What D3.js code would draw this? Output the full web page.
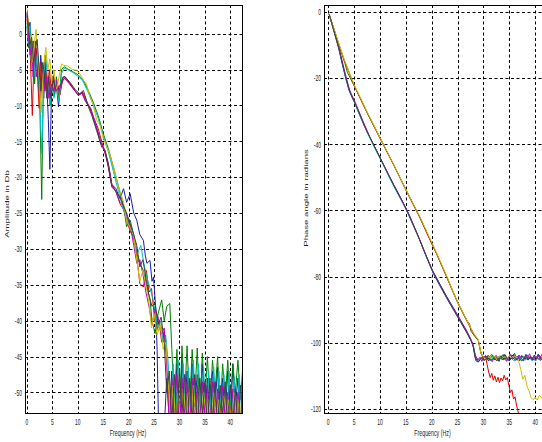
<!DOCTYPE html>
<html>
<head>
<meta charset="utf-8">
<script src="https://cdn.jsdelivr.net/npm/d3@7"></script>
<style>
body{margin:0;background:#fff;}
svg{display:block;}
</style>
</head>
<body>
<div id="chart"></div>
<script>
// tick values
var freqTicks = [0, 5, 10, 15, 20, 25, 30, 35, 40];
var ampTicks = [0, -5, -10, -15, -20, -25, -30, -35, -40, -45, -50];
var phaseTicks = [0, -20, -40, -60, -80, -100, -120];

// matlab default colour order: b g r c m y k
var seriesNames = ["blue", "green", "red", "cyan", "magenta", "yellow", "black"];
var seriesColors = ["#1c1ca8", "#008000", "#e00000", "#00bfbf", "#bf00bf", "#c8c000", "#404040"];

// amplitude spectra [freq Hz, dB]
var ampBlue = [[0,2.5],[0.3,0.5],[0.6,1.6],[0.9,-3],[1.2,-1],[1.5,-6],[1.8,-2],[2.1,-4],[2.4,-8],[2.7,-3],[3.0,-6],[3.3,-9],[3.6,-4],[3.9,-7],[4.2,-12],[4.5,-18.9],[4.8,-9],[5.1,-6],[5.4,-7.5],[5.7,-6.5],[6.2,-10.2],[6.6,-7],[7.0,-6.2],[7.5,-6],[8.5,-7],[9.5,-8],[10.1,-8.6],[10.8,-8.1],[11.5,-9.4],[12.5,-10.5],[13.5,-12.8],[14.5,-15.2],[15.3,-16.2],[16,-18],[16.7,-21],[17.5,-21.6],[18.3,-23],[19,-21.6],[19.6,-23.5],[20.3,-22.3],[21,-25],[21.6,-26],[22.2,-28],[22.9,-28.8],[23.3,-31],[23.6,-32],[24.2,-31.6],[24.6,-34.5],[24.9,-33.9],[25.3,-38],[25.6,-44],[25.9,-55],
  [27,-55],[27.5,-48],[28,-54],[28.5,-47],[29,-53],[29.5,-46],[30,-55],[30.5,-45.5],[31,-53],[31.5,-47],[32,-55],[32.5,-46],[33,-52],[33.5,-47.5],[34,-55],[34.5,-46],[35,-53],[35.5,-48],[36,-55],[36.5,-47],[37,-52],[37.5,-46.5],[38,-55],[38.5,-48],[39,-53],[39.5,-47],[40,-55],[40.5,-46],[41,-52],[41.5,-48],[42,-55],[42.5,-47]];
var ampGreen = [[0,1],[0.3,-2],[0.6,0.5],[0.9,-4],[1.2,-2],[1.5,-7],[1.8,-3],[2.1,-5],[2.5,-9],[2.9,-23.1],[3.2,-8],[3.5,-4],[3.8,-8],[4.2,-6],[4.6,-10],[5.0,-7],[5.4,-8.5],[5.8,-6],[6.3,-9],[6.8,-5],[7.3,-4.6],[8,-4.9],[9,-5.3],[10,-5.7],[11,-6.4],[12,-7.8],[13,-9.5],[14,-11.4],[15,-13.9],[16,-16],[17,-18.6],[18,-21.3],[19,-24],[19.6,-26.9],[20.3,-26],[21,-28],[21.6,-30.5],[22.2,-32],[22.9,-33],[23.5,-35],[24.2,-37],[24.6,-40],[25.2,-41.8],[25.8,-39],[26.5,-37.1],[27,-40],[27.5,-38],[28.1,-37.6],[28.5,-44],
  [29,-52],[29.5,-44],[30,-53],[30.5,-43.5],[31,-51],[31.5,-43.5],[32,-52],[32.5,-44],[33,-51],[33.5,-43.8],[34,-53],[34.5,-44.5],[35,-51],[35.5,-45],[36,-52],[36.5,-45.5],[37,-50],[37.5,-45],[38,-53],[38.5,-46],[39,-51],[39.5,-45.5],[40,-52],[40.5,-46],[41,-50],[41.5,-45.5],[42,-51],[42.5,-46]];
var ampRed = [[0,2],[0.3,0],[0.6,-2],[1.05,-11.4],[1.4,-3],[1.7,-1],[2.0,-5],[2.4,-10.4],[2.8,-4],[3.2,-7],[3.6,-3],[4.0,-8],[4.4,-5],[4.8,-8],[5.2,-5.8],[5.6,-8],[6.0,-7],[6.5,-8.5],[7.0,-6.5],[7.5,-6.2],[8.5,-7],[9.5,-8],[10.3,-8.5],[11,-8.2],[12,-9.8],[13,-11.5],[14,-13.2],[15,-15.8],[16,-18.3],[16.7,-21],[17.5,-22],[18.3,-23.7],[19,-24.5],[19.6,-26],[20.3,-27.5],[21,-28.5],[21.6,-31],[22.2,-34.8],[22.9,-35.3],[23.5,-33],[24,-36],[24.5,-35.5],[25,-39],[25.5,-41.5],[26,-40],[26.5,-43],[27,-41.5],[27.5,-45],
  [28,-53],[28.5,-49],[29,-55],[29.5,-50],[30,-54],[30.5,-48.5],[31,-55],[31.5,-50],[32,-54],[32.5,-49],[33,-55],[33.5,-50.5],[34,-53],[34.5,-49],[35,-55],[35.5,-51],[36,-54],[36.5,-50],[37,-55],[37.5,-51],[38,-54],[38.5,-50],[39,-55],[39.5,-51.5],[40,-53],[40.5,-50],[41,-55],[41.5,-51],[42,-54],[42.5,-50]];
var ampCyan = [[0,1.5],[0.3,-1],[0.6,1],[0.9,-5],[1.2,-2],[1.6,-6],[2.0,-3],[2.4,-7],[2.9,-16.7],[3.3,-6],[3.7,-3],[4.1,-7],[4.5,-10],[4.9,-7],[5.3,-9],[5.8,-7.5],[6.3,-9.5],[6.8,-5.5],[7.3,-4.8],[8,-5],[9,-5.4],[10,-5.9],[11,-6.6],[12,-8.1],[13,-9.8],[14,-11.8],[15,-14.2],[16,-16.4],[17,-19.2],[18,-22],[19,-24.6],[19.8,-26],[20.5,-27.5],[21.2,-29],[21.8,-30.5],[22.4,-29.5],[23,-32],[23.6,-34],[24.2,-35.5],[24.8,-37],[25.3,-39],[25.8,-41],[26.3,-40],[26.8,-43],[27.3,-42],[27.8,-46],
  [28.25,-53],[28.75,-46],[29.25,-54],[29.75,-45.5],[30.25,-52],[30.75,-46],[31.25,-55],[31.75,-46.5],[32.25,-53],[32.75,-45.5],[33.25,-54],[33.75,-46],[34.25,-52],[34.75,-46.5],[35.25,-55],[35.75,-47],[36.25,-53],[36.75,-46.5],[37.25,-54],[37.75,-47],[38.25,-52],[38.75,-47.5],[39.25,-55],[39.75,-47],[40.25,-53],[40.75,-48],[41.25,-54],[41.75,-47.5],[42.25,-53],[42.75,-48]];
var ampMagenta = [[0,2.8],[0.3,0],[0.6,-3],[0.9,-1],[1.2,-6],[1.5,-2],[1.9,-6],[2.3,-4],[2.7,-9],[3.1,-5],[3.5,-8],[3.9,-6],[4.3,-9],[4.8,-7],[5.3,-8],[5.8,-6.5],[6.3,-8],[6.8,-7],[7.3,-6.2],[8,-6.7],[9,-7.6],[10.1,-8.6],[10.8,-8.3],[11.6,-9.5],[12.5,-10.3],[13.5,-12.5],[14.5,-15],[15.3,-16.4],[16,-18.5],[16.7,-21.2],[17.5,-22],[18.3,-23.5],[19,-24],[19.7,-25.5],[20.4,-27],[21,-29.5],[21.6,-32],[22.2,-31.5],[22.8,-33.5],[23.4,-36],[24,-38],[24.6,-40.5],[25.2,-38.5],[25.8,-39.5],[26.4,-42],[27,-41],[27.5,-46],
  [28,-55],[28.5,-48],[29,-54],[29.5,-47.5],[30,-55],[30.5,-48],[31,-53],[31.5,-48.5],[32,-55],[32.5,-48],[33,-54],[33.5,-49],[34,-55],[34.5,-48.5],[35,-53],[35.5,-49],[36,-55],[36.5,-48.5],[37,-54],[37.5,-49.5],[38,-55],[38.5,-49],[39,-54],[39.5,-50],[40,-55],[40.5,-49.5],[41,-53],[41.5,-50],[42,-55],[42.5,-49]];
var ampYellow = [[0,3.5],[0.3,1.5],[0.6,-1],[0.9,0],[1.2,-4],[1.5,-1],[1.8,0.6],[2.1,-3],[2.4,-6],[2.8,-11],[3.2,-5],[3.7,-1.9],[4.1,-5],[4.5,-3.5],[4.9,-7],[5.3,-5],[5.8,-8],[6.3,-6],[6.8,-4.2],[7.2,-4.4],[8,-4.5],[9,-5],[9.8,-5.1],[10.5,-5.7],[11.1,-6.5],[11.7,-7],[12.4,-8.8],[13,-9.8],[13.7,-12],[14.4,-12.8],[15,-14.5],[15.7,-15.8],[16.3,-16.8],[17,-18.5],[17.7,-20.5],[18.3,-22],[19,-23.5],[19.6,-26.2],[20.3,-27],[21,-28],[21.6,-31.5],[22.2,-34.5],[22.8,-33],[23.4,-35],[24,-37.5],[24.5,-41],[25,-39],[25.6,-42],[26.2,-40.5],[26.8,-44],[27.3,-43],[27.8,-48],
  [28.25,-55],[28.75,-49],[29.25,-54],[29.75,-50],[30.25,-55],[30.75,-49.5],[31.25,-53],[31.75,-50],[32.25,-55],[32.75,-49],[33.25,-54],[33.75,-50.5],[34.25,-55],[34.75,-50],[35.25,-53],[35.75,-51],[36.25,-55],[36.75,-50],[37.25,-54],[37.75,-51],[38.25,-55],[38.75,-50.5],[39.25,-53],[39.75,-51],[40.25,-55],[40.75,-50],[41.25,-54],[41.75,-51],[42.25,-55],[42.75,-51]];
var ampBlack = [[0,3],[0.3,1],[0.6,-1.5],[0.9,-0.5],[1.3,-4],[1.7,-2],[2.0,-0.8],[2.3,-4],[2.7,-8],[3.1,-4],[3.5,-6],[3.9,-9],[4.3,-6],[4.7,-9],[5.2,-6],[5.7,-8],[6.2,-7.5],[6.7,-7],[7.1,-6],[7.5,-6],[8.5,-6.8],[9.5,-7.8],[10.4,-8.4],[11.1,-7.9],[12.1,-10.2],[12.8,-11.5],[13.7,-13.5],[14.7,-15.8],[15.4,-16.3],[16,-18.6],[16.7,-21.4],[17.3,-21.8],[18.3,-22.8],[19,-24],[19.6,-25],[20.3,-26.5],[21,-28],[21.6,-29.5],[22.2,-32.5],[22.8,-31.5],[23.4,-34],[24,-36.5],[24.6,-38],[25.2,-37.5],[25.8,-40.5],[26.4,-39.5],[27,-43],
  [27.5,-50],[28,-47],[28.5,-54],[29,-47.5],[29.5,-55],[30,-47],[30.5,-53],[31,-47.5],[31.5,-55],[32,-48],[32.5,-54],[33,-47.5],[33.5,-55],[34,-48],[34.5,-53],[35,-48.5],[35.5,-55],[36,-48],[36.5,-54],[37,-48.5],[37.5,-55],[38,-49],[38.5,-53],[39,-48.5],[39.5,-55],[40,-49],[40.5,-54],[41,-49.5],[41.5,-55],[42,-49],[42.5,-54]];

// phase spectra [freq Hz, radians]
var phaseBlue = [[0.2,-0.7],[1,-5],[2,-10.5],[2.7,-15.5],[3.4,-20],[4,-23.6],[5,-27],[6.2,-31.5],[7.5,-36.2],[9,-40.8],[10.4,-45.2],[12,-50.3],[13.6,-55],[15.2,-59.8],[16.5,-64.5],[17.7,-68.9],[19,-74],[20.3,-79],[21.5,-82.5],[22.8,-86.2],[24.2,-90],[25.5,-93.5],[26.8,-97],[27.5,-99],[28,-100.5],[28.3,-104],[28.6,-105.5],[29,-105.8],[29.4,-105],[29.8,-104.2],[30.2,-105.3],[30.6,-104],[31,-105.5],[31.4,-104.5],[31.8,-103.8],[32.2,-105.2],[32.6,-104.3],[33,-105.6],[33.4,-104],[33.8,-105],[34.2,-103.6],[34.6,-104.8],[35,-105.5],[35.4,-104.2],[35.8,-103.5],[36.2,-105],[36.6,-104],[37,-105.4],[37.4,-103.8],[37.8,-104.9],[38.2,-103.5],[38.6,-105.2],[39,-104.1],[39.4,-105.3],[39.8,-103.7],[40.2,-104.6],[40.6,-103.4],[41,-105],[41.4,-104.2],[41.8,-105.1],[42.2,-103.9]];
var phaseGreen = [[0.2,-0.7],[1.5,-7],[2.6,-12.5],[3.2,-15.3],[3.7,-18.2],[4.4,-20.4],[5.5,-23.8],[7.5,-30.3],[10.1,-38.3],[12.7,-46.3],[15.2,-54.2],[17.7,-62],[19.5,-68.2],[21,-73.2],[23,-80.4],[24.8,-87],[26.2,-91.4],[26.9,-93.5],[27.3,-94.2],[27.6,-96.5],[28.3,-98],[29,-99.3],[29.5,-102.8],[30,-104.6],[30.4,-103.8],[30.8,-105.1],[31.2,-104.2],[31.6,-103.5],[32,-104.9],[32.4,-104.1],[32.8,-105.3],[33.2,-103.9],[33.6,-104.7],[34,-103.4],[34.4,-105],[34.8,-104.2],[35.2,-103.6],[35.6,-104.8],[36,-103.2],[36.4,-104.5],[36.8,-103.8],[37.2,-105],[37.6,-104],[38,-104.7],[38.4,-103.6],[38.8,-104.9],[39.2,-104.2],[39.6,-105.1],[40,-103.9],[40.4,-104.6],[40.8,-103.7],[41.2,-104.8],[41.6,-104.1],[42,-104.9],[42.4,-104]];
var phaseRed = [[0.2,-0.7],[1.5,-7.1],[3,-14.1],[5,-22.1],[7.5,-30.4],[10.1,-38.4],[12.7,-46.4],[15.2,-54.4],[17.7,-62.1],[19.5,-68.3],[21,-73.3],[23,-80.5],[24.8,-87.1],[26.2,-91.6],[27.4,-95.2],[28.2,-97.6],[29,-99.2],[29.5,-103.2],[30,-104.6],[30.4,-104],[30.7,-106.5],[31,-108.8],[31.3,-110.5],[31.6,-109.2],[31.9,-111.3],[32.2,-110],[32.5,-111.8],[32.8,-110.4],[33.1,-112],[33.4,-110.6],[33.7,-111.5],[34,-109.8],[34.3,-111.2],[34.6,-110.5],[34.9,-112.8],[35.2,-115],[35.5,-114.2],[35.8,-117],[36.1,-116.3],[36.4,-119],[36.7,-120.8],[37,-123]];
var phaseCyan = [[0.2,-0.7],[1,-5.3],[2,-10.9],[2.8,-16],[3.5,-20.6],[4.2,-24.2],[5.2,-27.8],[6.3,-32],[7.6,-36.6],[9,-41.2],[10.5,-45.7],[12,-50.6],[13.6,-55.4],[15.2,-60.2],[16.5,-64.8],[17.8,-69.4],[19,-74.2],[20.3,-78.6],[21.6,-82.3],[22.9,-86],[24.2,-89.6],[25.5,-93],[26.7,-96.2],[27.5,-98.6],[28.1,-101],[28.5,-104.5],[29,-105],[29.5,-104.2],[30,-105.4],[30.5,-104.6],[31,-103.9],[31.5,-105.1],[32,-104.4],[32.5,-105.3],[33,-104.1],[33.5,-105],[34,-104.3],[34.5,-105.4],[35,-104],[35.5,-104.9],[36,-105.5],[36.5,-104.2],[37,-105],[37.5,-104.4],[38,-105.3],[38.5,-104],[39,-104.8],[39.5,-105.4],[40,-104.1],[40.5,-105],[41,-104.3],[41.5,-105.2],[42,-104.4],[42.5,-105]];
var phaseMagenta = [[0.2,-0.7],[1.2,-6],[2.3,-12.2],[3.2,-18],[4.1,-23.4],[5.3,-27.6],[6.6,-32.5],[8,-37.6],[9.5,-42.3],[11,-47],[12.6,-52],[14.2,-56.8],[15.8,-61.8],[17.2,-67],[18.6,-72.4],[20,-77.6],[21.4,-81.8],[22.8,-85.8],[24.2,-89.4],[25.6,-93.2],[26.9,-96.8],[27.8,-99.8],[28.4,-103.6],[28.9,-105.2],[29.3,-104.4],[29.7,-105.6],[30.1,-104.1],[30.5,-105],[30.9,-103.7],[31.3,-104.9],[31.7,-105.7],[32.1,-104.2],[32.5,-103.8],[32.9,-105.1],[33.3,-104.5],[33.7,-103.6],[34.1,-104.9],[34.5,-105.6],[34.9,-104.1],[35.3,-103.5],[35.7,-104.8],[36.1,-104.2],[36.5,-105.3],[36.9,-103.7],[37.3,-104.6],[37.7,-105.5],[38.1,-103.9],[38.5,-104.7],[38.9,-103.3],[39.3,-105],[39.7,-104],[40.1,-105.4],[40.5,-103.6],[40.9,-104.8],[41.3,-103.5],[41.7,-105.2],[42.1,-104.1],[42.5,-104.9]];
var phaseYellow = [[0.2,-0.7],[1.5,-6.9],[3,-13.9],[5,-21.9],[7.5,-30.1],[10.1,-38.2],[12.7,-46.2],[15.2,-54.2],[17.7,-61.8],[19.5,-67.9],[21,-73],[23,-80.2],[24.8,-87],[26.2,-91.3],[27.4,-95],[28.2,-97.4],[29,-99],[29.5,-103],[30,-104.3],[30.5,-104.9],[31,-104.1],[31.5,-104.8],[32,-103.9],[32.5,-104.6],[33,-104],[33.5,-104.9],[34,-104.2],[34.5,-104.7],[35,-104],[35.5,-104.6],[36,-104.1],[36.5,-104.5],[36.8,-105.5],[37.2,-108],[37.6,-111],[38,-109.8],[38.4,-113],[38.8,-114.5],[39.2,-116.5],[39.6,-117.2],[40,-116.4],[40.4,-117.3],[40.8,-115.8],[41.2,-116.6],[41.6,-115.2],[42,-116],[42.4,-114.5]];
var phaseBlack = [[0.2,-0.7],[1,-5.1],[2,-10.6],[2.7,-15.3],[3.5,-20.4],[4.3,-24.6],[5.5,-28.6],[7,-34.4],[8.5,-39.3],[10,-44],[11.5,-48.8],[13,-53.4],[14.6,-58],[16,-62.8],[17.4,-67.8],[18.8,-73.2],[20.2,-78.4],[21.6,-82.4],[23,-86.4],[24.4,-90.2],[25.7,-93.8],[26.9,-97.2],[27.6,-99.4],[28.1,-101.5],[28.5,-104.8],[29,-105.5],[29.6,-104.6],[30.2,-105.2],[30.8,-104.4],[31.4,-105.3],[32,-104.7],[32.6,-105.4],[33.2,-104.5],[33.8,-105.1],[34.4,-104.6],[35,-105.3],[35.6,-104.5],[36.2,-105.2],[36.8,-104.6],[37.4,-105.4],[38,-104.6],[38.6,-105.1],[39.2,-104.4],[39.8,-105.2],[40.4,-104.6],[41,-105.3],[41.6,-104.5],[42.2,-105.1]];

var ampSeries = [ampBlue, ampGreen, ampRed, ampCyan, ampMagenta, ampYellow, ampBlack];
var phaseSeries = [phaseBlue, phaseGreen, phaseRed, phaseCyan, phaseMagenta, phaseYellow, phaseBlack];

var svg = d3.select("#chart")
	.append("svg")
	.attr("width", 542)
	.attr("height", 442);

// all text in the picture is squeezed sideways
var squeeze = 0.55;

function addText(g, x, y, str, anchor, size, rotate)
{
	var t = "translate(" + x + "," + y + ") scale(" + squeeze + ",1)";
	if (rotate) t += " rotate(-90)";
	return g.append("text")
		.attr("transform", t)
		.attr("text-anchor", anchor)
		.attr("font-family", "'Liberation Sans', Arial, sans-serif")
		.attr("font-size", size)
		.attr("fill", "#1a1a1a")
		.text(str);
}

function drawPanel(p)
{
	var x = d3.scaleLinear().domain(p.xDomain).range([p.left, p.right]);
	var y = d3.scaleLinear().domain(p.yDomain).range([p.top, p.bottom]);
	var g = svg.append("g");

	g.append("clipPath").attr("id", p.id)
		.append("rect")
		.attr("x", p.left).attr("y", p.top)
		.attr("width", p.right - p.left).attr("height", p.bottom - p.top);

	// dashed grid
	g.selectAll(".vgrid").data(freqTicks).enter()
		.append("line")
		.attr("x1", function(d) { return Math.round(x(d)) + 0.5; })
		.attr("x2", function(d) { return Math.round(x(d)) + 0.5; })
		.attr("y1", p.top).attr("y2", p.bottom)
		.attr("stroke", "#000").attr("stroke-dasharray", "3,2.5");
	g.selectAll(".hgrid").data(p.yTicks).enter()
		.append("line")
		.attr("y1", function(d) { return Math.round(y(d)) + 0.5; })
		.attr("y2", function(d) { return Math.round(y(d)) + 0.5; })
		.attr("x1", p.left).attr("x2", p.right)
		.attr("stroke", "#000").attr("stroke-dasharray", "3,2.5");

	var line = d3.line()
		.x(function(d) { return x(d[0]); })
		.y(function(d) { return y(d[1]); });

	g.append("g").attr("clip-path", "url(#" + p.id + ")")
		.selectAll("path")
		.data(p.series)
		.enter()
		.append("path")
		.attr("d", line)
		.attr("fill", "none")
		.attr("stroke-width", 1)
		.attr("stroke", function(d, i) { return seriesColors[i]; });

	// box
	g.append("rect")
		.attr("x", p.left + 0.5).attr("y", p.top + 0.5)
		.attr("width", p.right - p.left - 1).attr("height", p.bottom - p.top - 1)
		.attr("fill", "none").attr("stroke", "#000");

	freqTicks.forEach(function(d) {
		addText(g, x(d), p.bottom + 11, d, "middle", 9);
	});
	p.yTicks.forEach(function(d) {
		addText(g, p.left - 3, y(d) + 3.2, d, "end", 9);
	});

	addText(g, (p.left + p.right) / 2 + p.xLabelShift, p.bottom + 21.5, "Frequency (Hz)", "middle", 9.6);
	addText(g, p.yLabelX, p.yLabelY, p.yLabel, "middle", 9.6, true);
}

drawPanel({
	id: "clipAmp",
	left: 25, right: 243, top: 5, bottom: 414,
	xDomain: [-0.39, 42.5], yDomain: [4, -53],
	yTicks: ampTicks, series: ampSeries,
	yLabel: "Amplitude in Db", yLabelX: 9, yLabelY: 204, xLabelShift: -6
});

drawPanel({
	id: "clipPhase",
	left: 324, right: 543, top: 5, bottom: 414,
	xDomain: [-0.8, 41.5], yDomain: [2.1, -121.5],
	yTicks: phaseTicks, series: phaseSeries,
	yLabel: "Phase angle in radians", yLabelX: 308, yLabelY: 198, xLabelShift: -1
});
</script>
</body>
</html>
